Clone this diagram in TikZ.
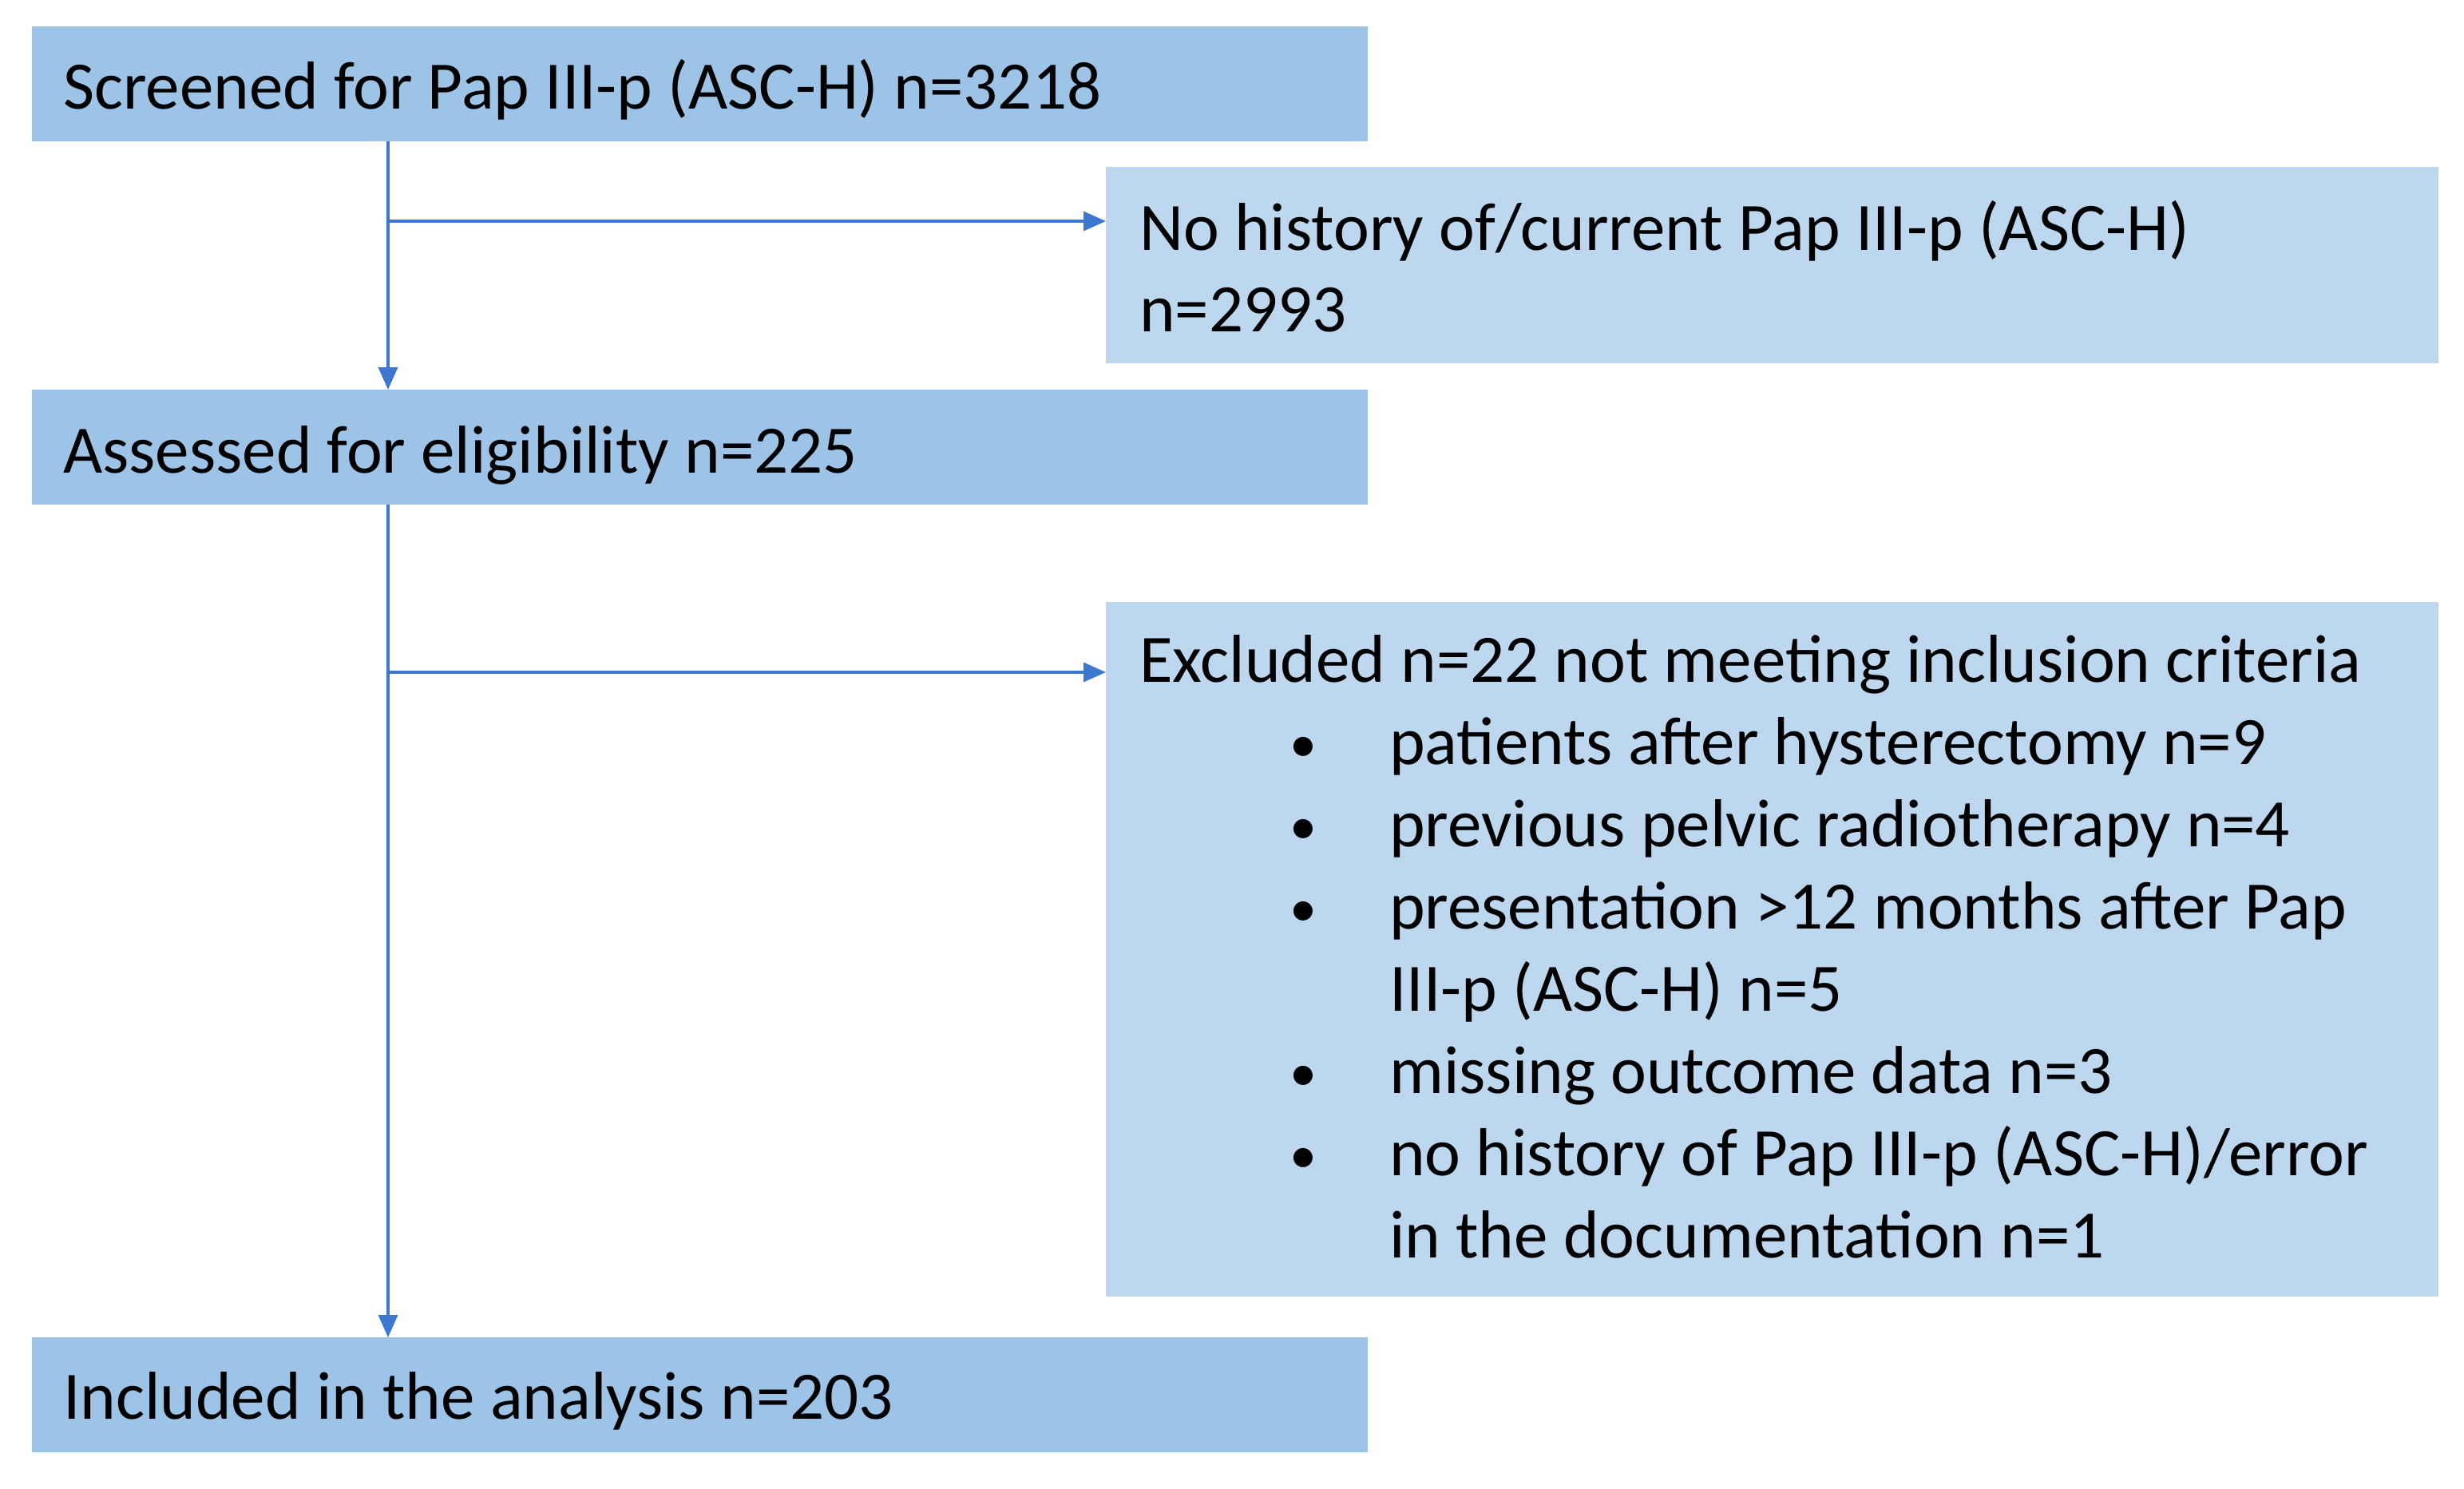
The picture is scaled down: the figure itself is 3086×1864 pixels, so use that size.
\documentclass[tikz,border=0pt]{standalone}
\usepackage{fontspec}
\setmainfont{Carlito}
\usetikzlibrary{arrows.meta}
\definecolor{boxdark}{HTML}{9DC3E6}
\definecolor{boxlight}{HTML}{BDD7EE}
\definecolor{arrowblue}{HTML}{3C78D0}
\tikzset{
  mainbox/.style={draw=none, fill=boxdark, anchor=north west, inner sep=0pt, minimum width=1673pt, minimum height=144pt},
  sidebox/.style={draw=none, fill=boxlight, anchor=north west, inner sep=0pt, minimum width=1669pt},
  txt/.style={anchor=base west, inner sep=0pt, font=\fontsize{85pt}{103pt}\selectfont, text=black},
  conn/.style={draw=arrowblue, line width=3.5pt},
  arr/.style={conn, -{Triangle[length=28pt,width=24pt]}},
}
\newcommand{\bitem}[1]{\makebox[313pt][l]{\hspace*{188pt}\raisebox{3pt}{\scalebox{0.8}{\textbullet}}}#1}
\begin{document}
\begin{tikzpicture}[x=1pt,y=-1pt]
\useasboundingbox (0,0) rectangle (3086,1864);
\fill[white] (0,0) rectangle (3086,1864);
% boxes
\node[mainbox] (b1) at (40,33) {};
\node[mainbox] (b2) at (40,488) {};
\node[mainbox] (b3) at (40,1675) {};
\node[sidebox, minimum height=246pt] (nh) at (1385,209) {};
\node[sidebox, minimum height=870pt] (ex) at (1385,754) {};
% texts
\node[txt] (t1) at (79,136) {Screened for Pap III-p (ASC-H) n=3218};
\node[txt] (t2) at (79,592) {Assessed for eligibility n=225};
\node[txt] (t3) at (79,1777) {Included in the analysis n=203};
\node[txt] (tnh1) at (1427,313) {No history of/current Pap III-p (ASC-H)};
\node[txt] (tnh2) at (1427,415) {n=2993};
\node[txt] (te0) at (1427,854) {Excluded n=22 not meeting inclusion criteria};
\node[txt] (te1) at (1427,957) {\bitem{patients after hysterectomy n=9}};
\node[txt] (te2) at (1427,1060) {\bitem{previous pelvic radiotherapy\ n=4}};
\node[txt] (te3) at (1427,1163) {\bitem{presentation >12 months after Pap}};
\node[txt] (te4) at (1740,1266) {III-p (ASC-H) n=5};
\node[txt] (te5) at (1427,1369) {\bitem{missing outcome data n=3}};
\node[txt] (te6) at (1427,1472) {\bitem{no history of Pap III-p (ASC-H)/error}};
\node[txt] (te7) at (1740,1575) {in the documentation n=1};
% junctions
\coordinate (j1) at (486,277);
\coordinate (j2) at (486,842);
% connectors
\draw[arr] (b1.south -| j1) -- (b2.north -| j1);
\draw[arr] (j1) -- (nh.west |- j1);
\draw[arr] (b2.south -| j2) -- (b3.north -| j2);
\draw[arr] (j2) -- (ex.west |- j2);
\end{tikzpicture}
\end{document}
